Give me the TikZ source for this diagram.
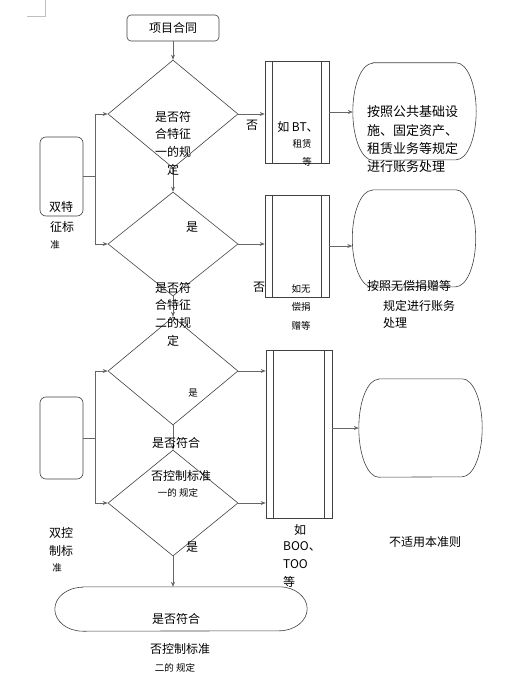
\documentclass[tikz,border=0pt]{standalone}
\usepackage{fontspec}
\setmainfont{Noto Sans CJK SC}
\usetikzlibrary{shapes.geometric, arrows.meta}

\tikzset{
    flow/.style={draw=black!75, line width=0.6pt},
    link/.style={draw=black!60, line width=0.6pt, -{Stealth[length=5pt, width=4pt]}},
    decide/.style={flow, diamond, minimum width=130pt, minimum height=108pt, inner sep=0pt},
    sidebox/.style={flow, rounded corners=6pt, minimum width=43pt, inner sep=0pt},
    casebox/.style={flow, minimum width=64pt, inner sep=0pt},
    drum/.style={minimum width=123pt, minimum height=97pt, inner sep=0pt},
    txt/.style={font=\fontsize{12}{17.7}\selectfont, inner sep=0pt, align=center},
    smalltxt/.style={font=\fontsize{9.5}{18.5}\selectfont, inner sep=0pt, align=center},
}

\begin{document}
\begin{tikzpicture}[x=1pt, y=1pt]
    \useasboundingbox (0,0) rectangle (526,-693);
    % page corner mark
    \draw[gray!50] (27,-16) -- (45,-16) -- (45,0);

    \node[flow, rounded corners=4pt, minimum width=92pt, minimum height=26pt, txt] (start) at (173,-28) {项目合同};

    % decisions
    \node[decide] (d1) at (173,-114) {};
    \node[decide, minimum height=104pt] (d2) at (173,-244) {};
    \node[decide] (d3) at (173,-371) {};
    \node[decide, minimum height=106pt] (d4) at (173,-503) {};

    % left boxes
    \node[sidebox, minimum height=79pt] (sideA) at (61.5,-176.5) {};
    \node[sidebox, minimum height=82pt] (sideB) at (61.5,-438) {};

    % cases
    \node[casebox, minimum height=102pt] (boxA) at (297,-112) {};
    \node[casebox, minimum height=102pt] (boxB) at (297,-246) {};
    \node[casebox, minimum width=66pt, minimum height=168pt] (boxC) at (299,-434) {};
    \foreach \b in {boxA, boxB, boxC} {
        \draw[flow] ([xshift=8pt]\b.north west) -- ([xshift=8pt]\b.south west);
        \draw[flow] ([xshift=-8pt]\b.north east) -- ([xshift=-8pt]\b.south east);
    }

    % ends
    \node[drum] (endA) at (414.5,-111.5) {};
    \node[drum] (endB) at (414,-238.5) {};
    \node[drum, minimum height=98pt] (endC) at (420.5,-428) {};
    \node[drum, minimum width=252pt, minimum height=44pt] (term) at (181,-609) {};
    \foreach \e/\rx/\ry in {endA/20/48.5, endB/20/48.5, endC/20/49, term/28/22} {
        \draw[flow] ([xshift=\rx pt]\e.north west) -- ([xshift=-\rx pt]\e.north east)
            arc[start angle=90, end angle=-90, x radius=\rx, y radius=\ry]
            -- ([xshift=\rx pt]\e.south west)
            arc[start angle=270, end angle=90, x radius=\rx, y radius=\ry] -- cycle;
    }

    % connectors
    \draw[link] (start.south) -- (d1.north);
    \draw[link] (d1.south) -- (d2.north);
    \draw[link] (d2.south) -- (d3.north);
    \draw[link] (d3.south) -- (d4.north);
    \draw[link] (d4.south) -- (d4.south |- term.north);
    \draw[link] (sideA.east) -- ++(12,0) |- (d1.west);
    \draw[link] (sideA.east) -- ++(12,0) |- (d2.west);
    \draw[link] (sideB.east) -- ++(12,0) |- (d3.west);
    \draw[link] (sideB.east) -- ++(12,0) |- (d4.west);
    \draw[link] (d1.east) -- (d1.east -| boxA.west);
    \draw[link] (boxA.east) -- (boxA.east -| endA.west);
    \draw[link] (d2.east) -- (d2.east -| boxB.west);
    \draw[link] (boxB.east) -- (boxB.east -| endB.west);
    \draw[link] (d3.east) -- (d3.east -| boxC.west);
    \draw[link] (d4.east) -- (d4.east -| boxC.west);
    \draw[link] (boxC.east |- endC.west) -- (endC.west);

    % question texts
    \node[txt] (q1) at (173,-143) {是否符\\合特征\\一的规\\定};
    \node[txt] (q2) at (173,-314) {是否符\\合特征\\二的规\\定};
    \node[txt] (q3a) at (176,-443) {是否符合};
    \node[txt] (q3b) at (181,-476) {否控制标准};
    \node[smalltxt] (q3c) at (178,-493) {一的 规定};
    \node[txt] (q4a) at (176,-619) {是否符合};
    \node[txt] (q4b) at (180,-649) {否控制标准};
    \node[smalltxt] (q4c) at (175,-668) {二的 规定};

    % yes / no
    \node[txt] (no1) at (252,-125) {否};
    \node[txt] (no2) at (259,-287) {否};
    \node[txt] (yes1) at (192,-227) {是};
    \node[smalltxt] (yes2) at (193,-393) {是};
    \node[txt] (yes3) at (192,-547) {是};

    % left texts
    \node[txt] (sa1) at (61,-207) {双特};
    \node[txt] (sa2) at (62,-227) {征标};
    \node[smalltxt] (sa3) at (55,-245) {准};
    \node[txt] (sb1) at (61,-533) {双控};
    \node[txt] (sb2) at (61,-551) {制标};
    \node[smalltxt] (sb3) at (57,-568) {准};

    % case texts
    \node[txt] (ta1) at (298,-127) {如 BT、};
    \node[smalltxt] (ta2) at (302,-144) {租赁};
    \node[smalltxt] (ta3) at (307,-162) {等};
    \node[smalltxt] (tb) at (301,-307) {如无\\偿捐\\赠等};
    \node[txt] (tc1) at (300,-530) {如};
    \node[txt, align=left, anchor=west] (tc2) at (283,-564.5) {BOO、\\TOO\\等};

    % end texts
    \node[txt, font=\fontsize{13}{18.3}\selectfont, align=left, anchor=west] (ea) at (367,-139.5) {按照公共基础设\\施、固定资产、\\租赁业务等规定\\进行账务处理};
    \node[txt, anchor=west] (eb1) at (367,-286) {按照无偿捐赠等};
    \node[txt, align=left, anchor=west] (eb2) at (383,-314.5) {规定进行账务\\处理};
    \node[txt] (ec) at (425,-542) {不适用本准则};
\end{tikzpicture}
\end{document}
